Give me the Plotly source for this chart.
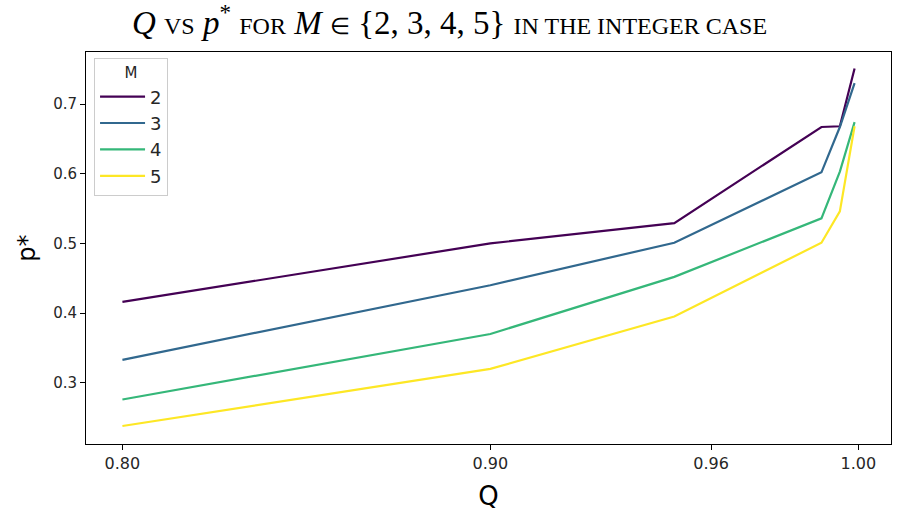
import plotly.graph_objects as go

Q = [0.80, 0.90, 0.95, 0.99, 0.995, 0.999]
M_values = ["2", "3", "4", "5"]
p_M2 = [0.416, 0.500, 0.529, 0.667, 0.668, 0.751]
p_M3 = [0.333, 0.440, 0.501, 0.602, 0.667, 0.730]
p_M4 = [0.276, 0.370, 0.452, 0.536, 0.603, 0.674]
p_M5 = [0.238, 0.320, 0.395, 0.501, 0.546, 0.668]
series = [p_M2, p_M3, p_M4, p_M5]
colors = ["#440154", "#31688e", "#35b779", "#fde725"]
x_ticks = [0.80, 0.90, 0.96, 1.00]
x_tick_text = ["0.80", "0.90", "0.96", "1.00"]
y_ticks = [0.3, 0.4, 0.5, 0.6, 0.7]

fig = go.Figure()
for name, ys, c in zip(M_values, series, colors):
    fig.add_trace(go.Scatter(x=Q, y=ys, mode="lines", name=name,
                             line=dict(color=c, width=2.2)))

sc = "font-size:24px"
el = "font-size:23px"
title = (f"<i>Q</i> <span style='{sc}'>VS</span> <i>p</i><sup>*</sup> "
         f"<span style='{sc}'>FOR</span> <i>M</i> <span style='{el}'>∈</span> {{2, 3, 4, 5}} "
         f"<span style='{sc}'>IN THE INTEGER CASE</span>")

axis_common = dict(showline=True, linecolor="black", linewidth=1, mirror=True,
                   ticks="outside", ticklen=5, tickcolor="black", showgrid=False,
                   zeroline=False)

fig.update_layout(
    width=899, height=518,
    paper_bgcolor="white", plot_bgcolor="white",
    margin=dict(l=86, r=8, t=52, b=74),
    title=dict(text=title, x=0.5, xanchor="center", y=1 - 22 / 518, yanchor="middle",
               font=dict(family="Liberation Serif", size=33, color="black")),
    xaxis=dict(range=[0.7901, 1.0089], tickvals=x_ticks, ticktext=x_tick_text,
               tickfont=dict(family="DejaVu Sans", size=16, color="#262626"),
               title=dict(text="Q", font=dict(family="DejaVu Sans", size=26, color="black"),
                          standoff=14),
               **axis_common),
    yaxis=dict(range=[0.2122, 0.7746], tickvals=y_ticks, tickformat=".1f",
               tickfont=dict(family="DejaVu Sans", size=15, color="#262626"),
               title=dict(text="p*", font=dict(family="DejaVu Sans", size=24, color="black"),
                          standoff=10),
               **axis_common),
    legend=dict(x=0.01, y=0.985, xanchor="left", yanchor="top",
                bgcolor="rgba(255,255,255,0.8)", bordercolor="#cccccc", borderwidth=1,
                itemwidth=45,
                font=dict(family="DejaVu Sans", size=18, color="#262626"),
                title=dict(text="M", side="top center",
                           font=dict(family="DejaVu Sans", size=15, color="#262626"))),
    showlegend=True,
)

fig.write_html("out.html")
